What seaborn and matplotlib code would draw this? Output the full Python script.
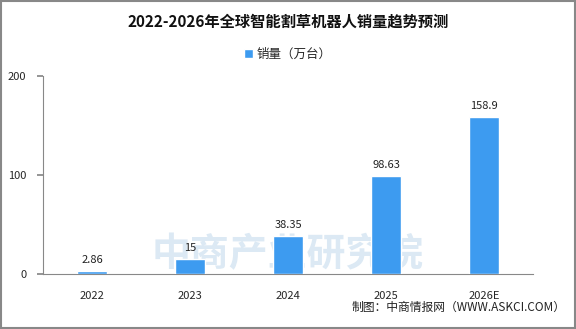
import matplotlib
matplotlib.use("Agg")
import matplotlib.pyplot as plt
import seaborn as sns
import pandas as pd
from matplotlib.patches import Rectangle

years = ["2022", "2023", "2024", "2025", "2026E"]
sales = [2.86, 15, 38.35, 98.63, 158.9]
value_labels = ["2.86", "15", "38.35", "98.63", "158.9"]
y_ticks = [0, 100, 200]

sns.set_theme(style="white")
plt.rcParams['font.family'] = ['Noto Sans CJK SC', 'DejaVu Sans']

df = pd.DataFrame({"year": years, "sales": sales})

fig = plt.figure(figsize=(5.76, 3.29), dpi=100)
ax = fig.add_axes([0.0747, 0.167, 0.8507, 0.602])

sns.barplot(data=df, x="year", y="sales", color="#3d9bf0", width=0.31,
            ax=ax, label="销量（万台）", saturation=1, zorder=3)

# faint watermark behind the bars
ax.text(0.5, 0.0, "中商产业研究院", transform=ax.transAxes, ha="center", va="bottom",
        fontsize=28, color="#dce9f4", fontweight="bold", zorder=1)

for i, (v, lab) in enumerate(zip(sales, value_labels)):
    ax.text(i, v + 6, lab, ha="center", va="bottom", fontsize=8, color="#222222", zorder=4)

ax.set_ylim(0, 200)
ax.set_xlim(-0.5, 4.5)
ax.set_yticks(y_ticks)
ax.set_xlabel("")
ax.set_ylabel("")
for s in ["top", "right"]:
    ax.spines[s].set_visible(False)
for s in ["left", "bottom"]:
    ax.spines[s].set_color("#888888")
    ax.spines[s].set_linewidth(0.8)
ax.tick_params(axis="y", left=True, length=4, color="#888888", labelsize=8, pad=8)
ax.tick_params(axis="x", bottom=False, labelsize=8, pad=6)

leg = ax.legend(loc="lower center", bbox_to_anchor=(0.5, 1.02), frameon=False,
                fontsize=9, handlelength=0.7, handleheight=0.7, handletextpad=0.3)

fig.text(0.5, 0.935, "2022-2026年全球智能割草机器人销量趋势预测", ha="center", va="center",
         fontsize=11, fontweight="bold", color="#111111")
fig.text(0.982, 0.065, "制图：中商情报网（WWW.ASKCI.COM）", ha="right", va="center",
         fontsize=8.5, color="#222222")

fig.add_artist(Rectangle((0.002, 0.003), 0.996, 0.994, transform=fig.transFigure,
                         fill=False, edgecolor="#888888", linewidth=1.5))

fig.savefig("out.png", dpi=100)
